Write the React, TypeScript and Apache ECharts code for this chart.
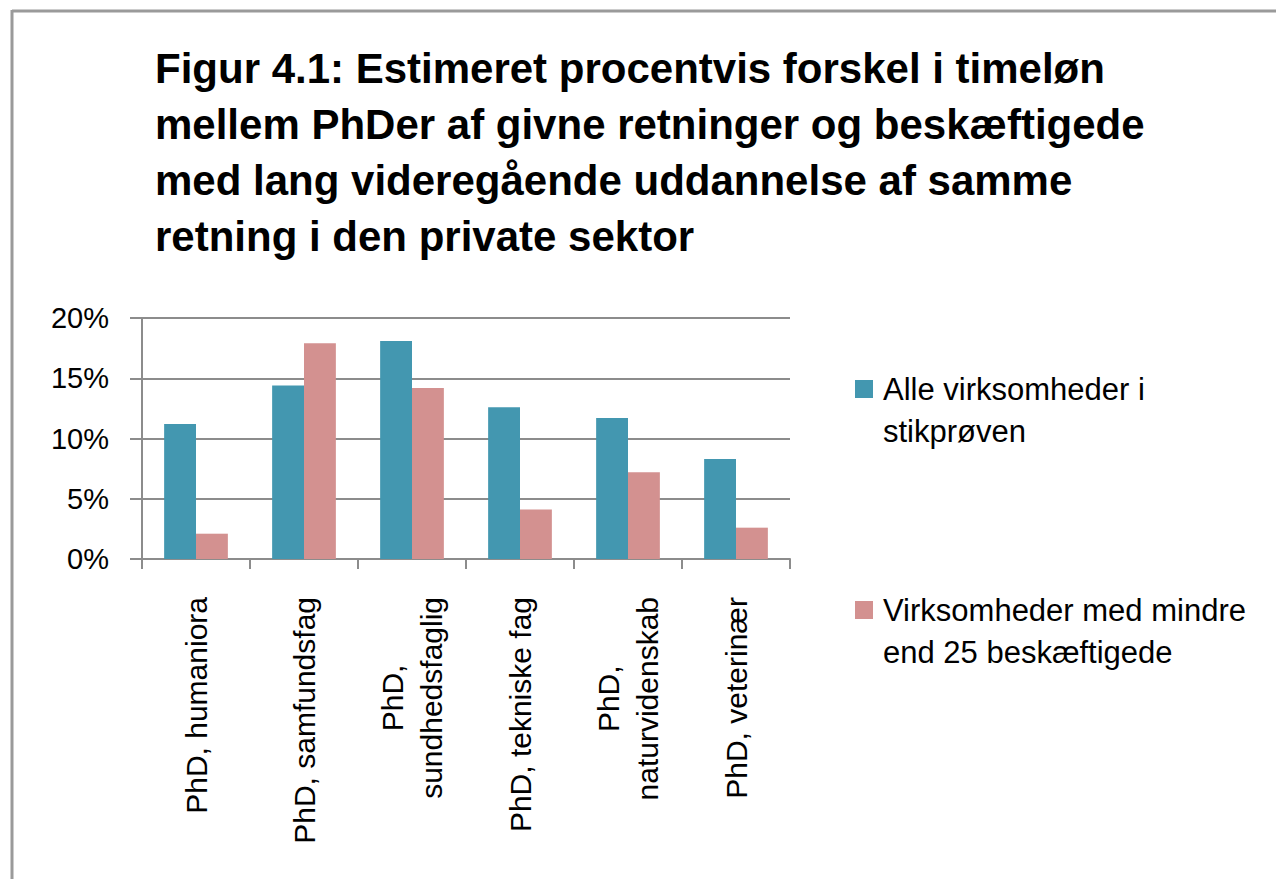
import React, { useEffect, useRef } from "react";
import * as echarts from "echarts";

const titleText =
  "Figur 4.1: Estimeret procentvis forskel i timeløn\nmellem PhDer af givne retninger og beskæftigede\nmed lang videregående uddannelse af samme\nretning i den private sektor";

const categories = [
  "PhD, humaniora",
  "PhD, samfundsfag",
  "PhD,\nsundhedsfaglig",
  "PhD, tekniske fag",
  "PhD,\nnaturvidenskab",
  "PhD, veterinær",
];

const seriesNames = [
  "Alle virksomheder i\nstikprøven",
  "Virksomheder med mindre\nend 25 beskæftigede",
];

const allFirms = [11.2, 14.4, 18.1, 12.6, 11.7, 8.3];
const smallFirms = [2.1, 17.9, 14.2, 4.1, 7.2, 2.6];

const yTicks = { min: 0, max: 20, interval: 5 };

const FONT = "'Liberation Sans', Arial, sans-serif";
const TEAL = "#4397b0";
const PINK = "#d39190";
const GRID = "#8c8c8c";

export default function App() {
  const ref = useRef<HTMLDivElement>(null);

  useEffect(() => {
    if (!ref.current) return;
    const chart = echarts.init(ref.current, undefined, { renderer: "svg" });
    const legendCommon = {
      orient: "vertical",
      left: 855,
      padding: 0,
      itemWidth: 18,
      itemHeight: 18,
      icon: "rect",
      formatter: (name: string) => "\n" + name,
      textStyle: {
        fontFamily: FONT,
        fontSize: 31,
        color: "#000",
        lineHeight: 42,
        padding: [0, 0, 0, 5],
      },
    };
    chart.setOption({
      animation: false,
      backgroundColor: "#ffffff",
      textStyle: { fontFamily: FONT },
      title: {
        text: titleText,
        left: 155,
        top: 40,
        padding: 0,
        textStyle: {
          fontFamily: FONT,
          fontSize: 42,
          fontWeight: "bold",
          color: "#000",
          lineHeight: 56,
        },
      },
      legend: [
        { ...legendCommon, top: 326, data: [seriesNames[0]] },
        { ...legendCommon, top: 547, data: [seriesNames[1]] },
      ],
      grid: { left: 142, right: 486, top: 318, bottom: 320, containLabel: false },
      xAxis: {
        type: "category",
        data: categories,
        axisLine: { show: true, lineStyle: { color: GRID, width: 2 } },
        axisTick: { show: true, length: 10, lineStyle: { color: GRID, width: 2 } },
        axisLabel: {
          rotate: 90,
          margin: 38,
          interval: 0,
          fontFamily: FONT,
          fontSize: 30,
          color: "#000",
          formatter: (v: string) =>
            v
              .split("\n")
              .map((l) => `{a|${l}}`)
              .join("\n"),
          rich: {
            a: {
              fontFamily: FONT,
              fontSize: 30,
              color: "#000",
              align: "center",
              lineHeight: 39,
            },
          },
        },
      },
      yAxis: {
        type: "value",
        min: yTicks.min,
        max: yTicks.max,
        interval: yTicks.interval,
        axisLine: { show: true, lineStyle: { color: GRID, width: 2 } },
        axisTick: { show: true, length: 12, lineStyle: { color: GRID, width: 2 } },
        splitLine: { show: true, lineStyle: { color: GRID, width: 2 } },
        axisLabel: {
          formatter: "{value}%",
          fontFamily: FONT,
          fontSize: 29,
          color: "#000",
          margin: 33,
        },
      },
      series: [
        {
          name: seriesNames[0],
          type: "bar",
          data: allFirms,
          itemStyle: { color: TEAL },
          barGap: "0%",
          barCategoryGap: "41%",
        },
        {
          name: seriesNames[1],
          type: "bar",
          data: smallFirms,
          itemStyle: { color: PINK },
          barGap: "0%",
          barCategoryGap: "41%",
        },
      ],
      graphic: [
        {
          type: "line",
          shape: { x1: 12, y1: 11, x2: 1276, y2: 11 },
          style: { stroke: "#9a9a9a", lineWidth: 3 },
        },
        {
          type: "line",
          shape: { x1: 12, y1: 10, x2: 12, y2: 879 },
          style: { stroke: "#9a9a9a", lineWidth: 3 },
        },
      ],
    });
    return () => chart.dispose();
  }, []);

  return (
    <div
      ref={ref}
      style={{ position: "absolute", left: 0, top: 0, width: 1276, height: 879 }}
    />
  );
}
